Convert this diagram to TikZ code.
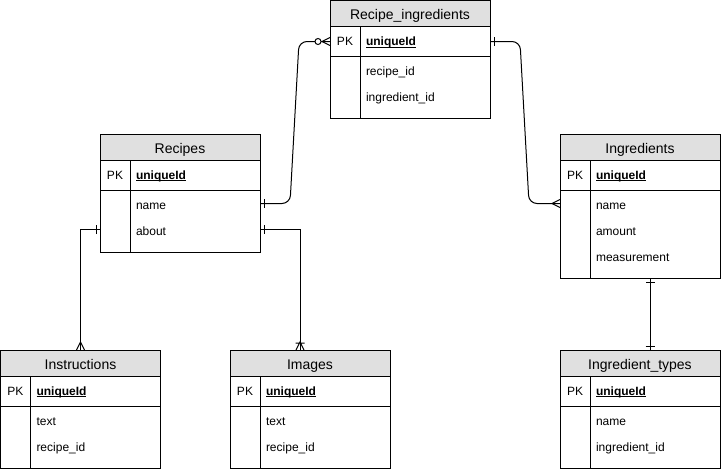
\documentclass[tikz,border=0pt]{standalone}
\usepackage{fontspec}
\setmainfont{Liberation Sans}
\usetikzlibrary{fit,calc}
\definecolor{headgray}{HTML}{E0E0E0}

% underlined key name, the rule sitting just under the baseline
\newcommand\keyul[1]{\sbox0{#1}\rlap{\rule[-1.8pt]{\wd0}{0.8pt}}\usebox0}

\tikzset{
  erline/.style={line width=1pt, draw=black},
  headcell/.style={erline, fill=headgray, minimum width=160pt, minimum height=26pt,
    inner sep=0pt, outer sep=0pt, anchor=north west,
    font=\fontsize{14}{16}\selectfont, text height=12pt, text depth=0pt},
  pkcell/.style={erline, minimum width=160pt, minimum height=30pt,
    inner sep=0pt, outer sep=0pt, anchor=north west},
  celltext/.style={inner sep=0pt, outer sep=0pt,
    font=\fontsize{12}{14}\selectfont, text height=8.6pt, text depth=0pt},
  fieldcell/.style={minimum width=130pt, minimum height=26pt, inner xsep=6pt,
    inner ysep=0pt, outer sep=0pt, text width=118pt, align=left, anchor=north west,
    font=\fontsize{12}{14}\selectfont, text height=11.6pt, text depth=0pt},
  tablebox/.style={erline, inner sep=0pt, outer sep=0pt},
  link/.style={line width=1pt, draw=black},
  bendlink/.style={link, rounded corners=8pt},
  % relationship ends; the entity lies in the +x direction of each pic
  erone/.pic={\draw[line width=1pt] (-4,-4.5) -- (-4,4.5);},
  ermany/.pic={\draw[line width=1pt] (0,4) -- (-8,0) -- (0,-4);},
  eronemany/.pic={\draw[line width=1pt] (0,4) -- (-8,0) -- (0,-4) (-7,-4.5) -- (-7,4.5);},
  erzeromany/.pic={\draw[line width=1pt] (0,4) -- (-8,0) -- (0,-4);
                   \draw[line width=1pt, fill=white] (-12,0) circle (3);},
}

% #1 name, #2 left, #3 top (downwards), #4 title, #5 number of fields, #6 fields
\newcommand\ertable[6]{%
  \node[headcell] (#1-head) at ({#2},{-#3}) {#4};
  \node[pkcell] (#1-pk) at (#1-head.south west) {};
  \node[celltext] (#1-pkl) at ([xshift=15pt]#1-pk.west) {PK};
  \node[celltext, anchor=west] (#1-key) at ([xshift=36pt]#1-pk.west) {\textbf{\keyul{uniqueId}}};
  \foreach \f [count=\k, evaluate=\k as \dy using {-26*(\k-1)-0.5}] in {#6} {
    \node[fieldcell] (#1-f\k) at ([xshift=30pt,yshift=\dy pt]#1-pk.south west) {\f};
  }
  \pgfmathsetmacro\erbody{26*#5+10}
  \coordinate (#1-end) at ([yshift=-\erbody pt]#1-pk.south east);
  \node[tablebox, fit=(#1-head)(#1-end)] (#1) {};
  \draw[erline] ([xshift=30pt]#1-pk.north west) -- ([xshift=30pt]#1.south west);
}

\begin{document}
\begin{tikzpicture}[x=1pt, y=1pt]
  \useasboundingbox (0,0) rectangle (721,-469);

  \ertable{ri}{330}{0.5}{Recipe\_ingredients}{2}{recipe\_id, ingredient\_id}
  \ertable{rec}{100}{134}{Recipes}{2}{name, about}
  \ertable{ing}{560}{134}{Ingredients}{3}{name, amount, measurement}
  \ertable{ins}{0.5}{350}{Instructions}{2}{text, recipe\_id}
  \ertable{img}{230}{350}{Images}{2}{text, recipe\_id}
  \ertable{ity}{560}{350}{Ingredient\_types}{2}{name, ingredient\_id}

  % attachment points on the table edges
  \coordinate (rec-nameR)  at (rec.east |- rec-f1);
  \coordinate (rec-aboutL) at (rec.west |- rec-f2);
  \coordinate (rec-aboutR) at (rec.east |- rec-f2);
  \coordinate (ing-nameL)  at (ing.west |- ing-f1);
  \coordinate (img-top)    at ([xshift=-10pt]img.north);
  \coordinate (ing-bottom) at ([xshift=10pt]ing.south);
  \coordinate (ity-top)    at ([xshift=10pt]ity.north);

  % Recipes -- Recipe_ingredients
  \draw[bendlink] (rec-nameR) -- ([xshift=30pt]rec-nameR) -- ([xshift=-31pt]ri-pk.west) -- (ri-pk.west);
  \pic[rotate=180] at (rec-nameR) {erone};
  \pic at (ri-pk.west) {erzeromany};

  % Recipe_ingredients -- Ingredients
  \draw[bendlink] (ri-pk.east) -- ([xshift=30pt]ri-pk.east) -- ([xshift=-31pt]ing-nameL) -- (ing-nameL);
  \pic[rotate=180] at (ri-pk.east) {erone};
  \pic at (ing-nameL) {ermany};

  % Recipes -- Instructions
  \draw[link] (rec-aboutL) -| (ins.north);
  \pic at (rec-aboutL) {erone};
  \pic[rotate=-90] at (ins.north) {ermany};

  % Recipes -- Images
  \draw[link] (rec-aboutR) -| (img-top);
  \pic[rotate=180] at (rec-aboutR) {erone};
  \pic[rotate=-90] at (img-top) {eronemany};

  % Ingredients -- Ingredient_types
  \draw[link] (ing-bottom) -- (ity-top);
  \pic[rotate=90] at (ing-bottom) {erone};
  \pic[rotate=-90] at (ity-top) {erone};
\end{tikzpicture}
\end{document}
